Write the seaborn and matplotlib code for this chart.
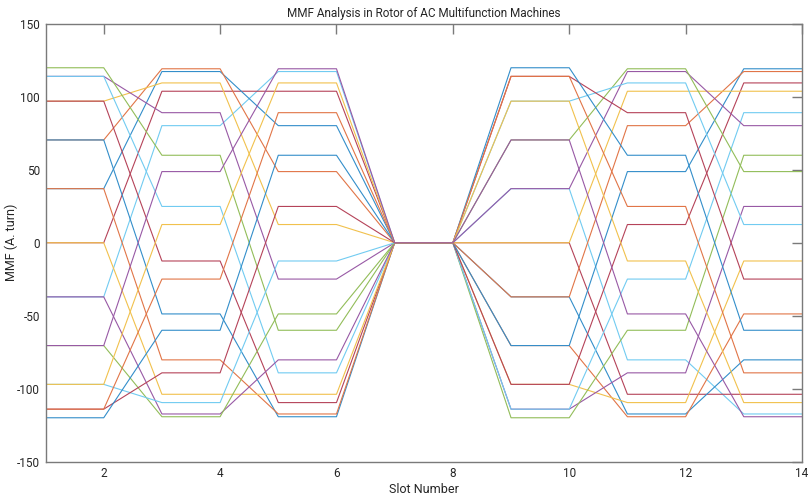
import numpy as np
import pandas as pd
import matplotlib
matplotlib.use("Agg")
import matplotlib.pyplot as plt
import matplotlib.colors as mcolors
import seaborn as sns

# Slot numbers on the x axis
slots = list(range(1, 15))

# MMF level of each of the 20 curves (in drawing order) for each pair of slots
mmf_slot_1_2 = [-37.1, 0, 37.1, 70.5, 97.1, 114.1, 120, 114.1, 97.1, 70.5,
                37.1, 0, -37.1, -70.5, -97.1, -114.1, -120, -114.1, -97.1, -70.5]
mmf_slot_3_4 = [80.3, 103.9, 117.4, 119.3, 109.6, 89.2, 60, 24.9, -12.5, -48.8,
                -80.3, -103.9, -117.4, -119.3, -109.6, -89.2, -60, -24.9, 12.5, 48.8]
mmf_slot_5_6 = [117.4, 103.9, 80.3, 48.8, 12.5, -24.9, -60, -89.2, -109.6, -119.3,
                -117.4, -103.9, -80.3, -48.8, -12.5, 24.9, 60, 89.2, 109.6, 119.3]
mmf_slot_7_8 = [0] * 20
mmf_slot_9_10 = [37.1, 0, -37.1, -70.5, -97.1, -114.1, -120, -114.1, -97.1, -70.5,
                 -37.1, 0, 37.1, 70.5, 97.1, 114.1, 120, 114.1, 97.1, 70.5]
mmf_slot_11_12 = [-80.3, -103.9, -117.4, -119.3, -109.6, -89.2, -60, -24.9, 12.5, 48.8,
                  80.3, 103.9, 117.4, 119.3, 109.6, 89.2, 60, 24.9, -12.5, -48.8]
mmf_slot_13_14 = [-117.4, -103.9, -80.3, -48.8, -12.5, 24.9, 60, 89.2, 109.6, 119.3,
                  117.4, 103.9, 80.3, 48.8, 12.5, -24.9, -60, -89.2, -109.6, -119.3]

# MATLAB default colour order, the curves start at the 6th colour
matlab_colors = ["#0072BD", "#D95319", "#EDB120", "#7E2F8E",
                 "#77AC30", "#4DBEEE", "#A2142F"]


def soften(c, amount=0.2):
    # mix with white, thin lines in the reference look a bit washed out
    r, g, b = mcolors.to_rgb(c)
    return (r + (1 - r) * amount, g + (1 - g) * amount, b + (1 - b) * amount)


line_colors = [soften(matlab_colors[(n + 5) % 7]) for n in range(20)]

# Build long table: each pair level repeats on both slots of the pair
pairs = [mmf_slot_1_2, mmf_slot_3_4, mmf_slot_5_6, mmf_slot_7_8,
         mmf_slot_9_10, mmf_slot_11_12, mmf_slot_13_14]
rows = []
for n in range(20):
    for s in slots:
        rows.append({"line": n, "slot": s, "mmf": pairs[(s - 1) // 2][n]})
df = pd.DataFrame(rows)

sns.set_style("white")
plt.rcParams["font.family"] = ["Roboto", "DejaVu Sans"]
plt.rcParams["axes.unicode_minus"] = False

fig = plt.figure(figsize=(8.09, 4.97), dpi=100)
ax = fig.add_axes([0.0563, 0.0714, 0.9350, 0.8803])

sns.lineplot(data=df, x="slot", y="mmf", hue="line", palette=line_colors,
             estimator=None, sort=False, legend=False, linewidth=0.8, ax=ax)

ax.set_xlim(1, 14)
ax.set_ylim(-150, 150)
ax.set_xticks(range(2, 15, 2))
ax.set_yticks(range(-150, 151, 50))
ax.set_title("MMF Analysis in Rotor of AC Multifunction Machines",
             fontsize=8.5, pad=5, color="#262626")
ax.set_xlabel("Slot Number", fontsize=9, labelpad=2, color="#262626")
ax.set_ylabel("MMF (A. turn)", fontsize=9, color="#262626")
ax.yaxis.set_label_coords(-0.037, 0.5)

for sp in ax.spines.values():
    sp.set_visible(True)
    sp.set_color("#7a7a7a")
    sp.set_linewidth(1.0)
ax.tick_params(direction="in", top=True, right=True, length=7, width=1.0,
               color="#7a7a7a", labelsize=8.5, labelcolor="#262626", pad=4)

fig.savefig("out.png", dpi=100)
